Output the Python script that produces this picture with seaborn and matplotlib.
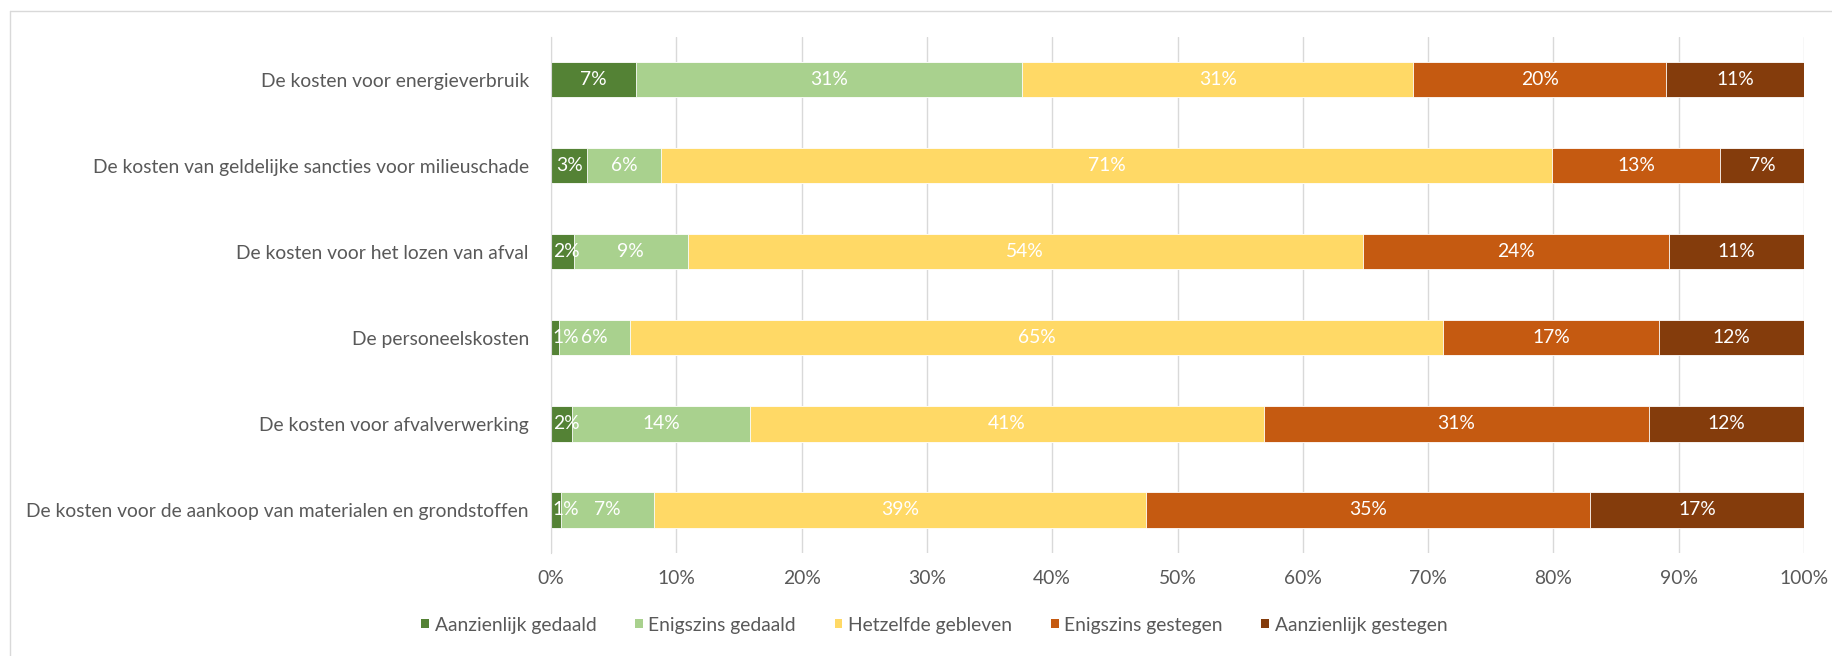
import matplotlib
matplotlib.use("Agg")
import matplotlib.pyplot as plt
from matplotlib.patches import Patch
from matplotlib.lines import Line2D
import seaborn as sns

categories = [
    "De kosten voor energieverbruik",
    "De kosten van geldelijke sancties voor milieuschade",
    "De kosten voor het lozen van afval",
    "De personeelskosten",
    "De kosten voor afvalverwerking",
    "De kosten voor de aankoop van materialen en grondstoffen",
]
series_names = [
    "Aanzienlijk gedaald",
    "Enigszins gedaald",
    "Hetzelfde gebleven",
    "Enigszins gestegen",
    "Aanzienlijk gestegen",
]
aanzienlijk_gedaald = [6.8, 2.9, 1.8, 0.6, 1.7, 0.8]
enigszins_gedaald = [30.8, 5.9, 9.1, 5.7, 14.2, 7.4]
hetzelfde_gebleven = [31.2, 71.1, 53.9, 64.9, 41.0, 39.3]
enigszins_gestegen = [20.2, 13.4, 24.4, 17.2, 30.7, 35.4]
aanzienlijk_gestegen = [11.0, 6.7, 10.8, 11.6, 12.4, 17.1]
x_ticks = [0, 10, 20, 30, 40, 50, 60, 70, 80, 90, 100]

colors = ["#548235", "#A9D18E", "#FFD966", "#C55A11", "#843C0C"]
series = [aanzienlijk_gedaald, enigszins_gedaald, hetzelfde_gebleven,
          enigszins_gestegen, aanzienlijk_gestegen]

sns.set_style("white")
plt.rcParams["font.family"] = ["Lato", "DejaVu Sans"]
FS = 13.9

W, H = 1832, 656
fig = plt.figure(figsize=(W / 100, H / 100), dpi=100)
ax = fig.add_axes([551 / W, 1 - 553 / H, (1804 - 551) / W, (553 - 36.5) / H])

# cumulative sums
cums = []
running = [0.0] * len(categories)
for s in series:
    running = [r + v for r, v in zip(running, s)]
    cums.append(list(running))

# draw from the total backwards so segments stack
for i in range(len(series) - 1, -1, -1):
    sns.barplot(x=cums[i], y=categories, order=categories, orient="h",
                color=colors[i], saturation=1, width=0.41,
                edgecolor="white", linewidth=0.6, ax=ax)

# value labels
for i, s in enumerate(series):
    for j, v in enumerate(s):
        center = cums[i][j] - v / 2
        if center < 1.3:
            ax.text(0.15, j, f"{round(v)}%", ha="left", va="center",
                    color="white", fontsize=FS)
        else:
            ax.text(center, j, f"{round(v)}%", ha="center", va="center",
                    color="white", fontsize=FS)

ax.set_xlim(0, 100)
ax.set_ylim(len(categories) - 0.5, -0.5)
ax.set_xticks(x_ticks)
ax.set_xticklabels([f"{t}%" for t in x_ticks])
ax.set_xlabel("")
ax.set_ylabel("")
ax.grid(axis="x", color="#D9D9D9", linewidth=1)
ax.set_axisbelow(True)
for side in ["top", "right", "bottom"]:
    ax.spines[side].set_visible(False)
ax.spines["left"].set_color("#D9D9D9")
ax.tick_params(axis="y", length=0, pad=16, labelsize=FS, labelcolor="#595959")
ax.tick_params(axis="x", length=0, pad=12, labelsize=FS, labelcolor="#595959")

handles = [Patch(facecolor=c, edgecolor="none") for c in colors]
fig.legend(handles, series_names, loc="center", bbox_to_anchor=(0.51, 1 - 625 / H),
           ncol=5, frameon=False, fontsize=FS, labelcolor="#595959",
           handlelength=0.4, handleheight=0.4, handletextpad=0.3,
           columnspacing=2.0)

# outer chart border (top and left visible)
fig.add_artist(Line2D([10 / W, 1.0], [1 - 11 / H, 1 - 11 / H],
                      transform=fig.transFigure, color="#D9D9D9", linewidth=1))
fig.add_artist(Line2D([10 / W, 10 / W], [0, 1 - 11 / H],
                      transform=fig.transFigure, color="#D9D9D9", linewidth=1))

fig.savefig("out.png", dpi=100)
